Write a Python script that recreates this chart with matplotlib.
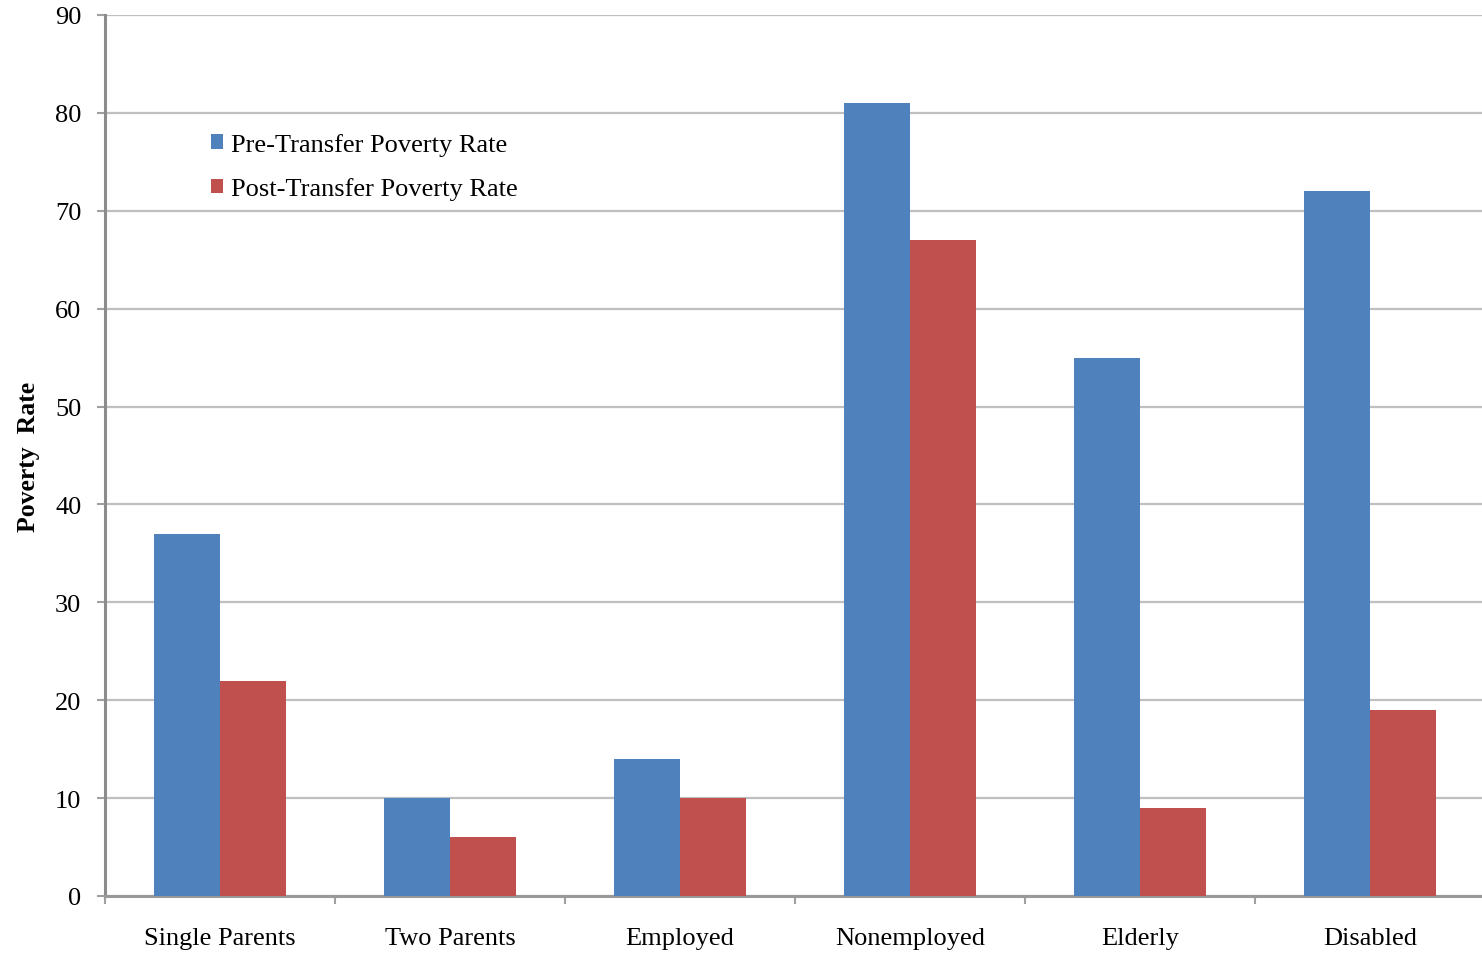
import matplotlib.pyplot as plt
import numpy as np

categories = ['Single Parents', 'Two Parents', 'Employed', 'Nonemployed', 'Elderly', 'Disabled']
pre_transfer = [37, 10, 14, 81, 55, 72]
post_transfer = [22, 6, 10, 67, 9, 19]
series_labels = ['Pre-Transfer Poverty Rate', 'Post-Transfer Poverty Rate']
y_ticks = list(range(0, 91, 10))

plt.rcParams['font.family'] = ['Liberation Serif', 'DejaVu Serif']

fig = plt.figure(figsize=(14.82, 9.54), dpi=100)
ax = fig.add_axes([105 / 1482, 1 - 897 / 954, 1380 / 1482, 881 / 954])

x = np.arange(len(categories))
w = 0.287
ax.bar(x - w / 2, pre_transfer, w, color='#4F81BD', label=series_labels[0], zorder=3)
ax.bar(x + w / 2, post_transfer, w, color='#C0504D', label=series_labels[1], zorder=3)

ax.set_xlim(-0.5, len(categories) - 0.5)
ax.set_ylim(0, 90)
ax.set_yticks(y_ticks)
ax.yaxis.grid(True, color='#bfbfbf', linewidth=1.6, zorder=0)
ax.set_axisbelow(True)

ax.set_xticks(x)
ax.set_xticklabels(categories, fontsize=19)
ax.set_xticks(np.arange(len(categories) + 1) - 0.5, minor=True)
ax.tick_params(axis='x', which='major', length=0, pad=22.5)
ax.tick_params(axis='x', which='minor', length=6, width=1.5, color='#a0a0a0', direction='out')
ax.tick_params(axis='y', length=6, width=1.5, color='#a0a0a0', pad=11, labelsize=19)

for side in ['top', 'right']:
    ax.spines[side].set_visible(False)
ax.spines['left'].set_color('#8c8c8c')
ax.spines['left'].set_linewidth(2.2)
ax.spines['bottom'].set_color('#999999')
ax.spines['bottom'].set_linewidth(2.2)

ax.set_ylabel('Poverty  Rate', fontsize=18.5, fontweight='bold', labelpad=11)

ax.legend(loc='center left', bbox_to_anchor=(0.069, 0.828), frameon=False,
          fontsize=19, handlelength=0.45, handleheight=0.45,
          handletextpad=0.3, labelspacing=0.81, borderaxespad=0)

fig.savefig('out.png', dpi=100)
